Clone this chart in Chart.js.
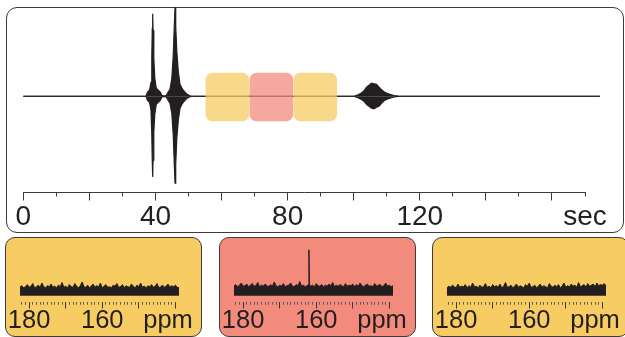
<!DOCTYPE html>
<html>
<head>
<meta charset="utf-8">
<script src="https://cdn.jsdelivr.net/npm/chart.js@4.4.1/dist/chart.umd.min.js"></script>
<style>
  html, body { margin: 0; padding: 0; background: #fff; width: 625px; height: 337px; overflow: hidden; }
  .frame { position: absolute; box-sizing: border-box; border: 1.4px solid #3d3b3c; border-radius: 11px; }
  canvas { position: absolute; }
</style>
</head>
<body>
<div class="frame" style="left:6px;top:7px;width:618px;height:226px;background:#fff;"></div>
<div class="frame" style="left:5px;top:237px;width:197px;height:100px;background:#f6cc63;border-radius:10px;"></div>
<div class="frame" style="left:218.5px;top:237px;width:197px;height:100px;background:#f38b7d;border-radius:10px;"></div>
<div class="frame" style="left:432px;top:237px;width:197px;height:100px;background:#f6cc63;border-radius:10px;"></div>

<canvas id="timeTrace" width="625" height="240" style="left:0;top:0;"></canvas>
<canvas id="spec1" width="197" height="100" style="left:5px;top:237px;"></canvas>
<canvas id="spec2" width="197" height="100" style="left:218.5px;top:237px;"></canvas>
<canvas id="spec3" width="197" height="100" style="left:432px;top:237px;"></canvas>

<script>
// ---- time trace: envelope of the acquired signal (normalised amplitude) ----
const signalTime = [0, 37.14, 37.59, 38.2, 38.65, 38.89, 39.04, 39.16, 39.28, 39.50, 39.80, 40.25, 40.86, 41.46, 41.92, 42.58,
  43.34, 43.80, 44.40, 44.95, 45.37, 45.70, 45.92, 46.13, 46.46, 46.91, 47.43, 48.18, 48.94, 49.55, 50.45, 51.36,
  100.09, 101.30, 102.21, 103.12, 103.87, 104.63, 105.39, 106.14, 106.90, 107.66, 108.41, 109.17, 110.08, 110.99, 112.20, 113.41, 114.62,
  174.5];
const signalUpper = [0, 0, .042, .062, .145, .416, .706, .857, .686, .395, .187, .083, .062, .042, .010, .003,
  .010, .042, .073, .187, .416, .727, .925, .727, .468, .260, .125, .073, .042, .021, .005, 0,
  0, .016, .031, .057, .094, .114, .135, .130, .125, .094, .068, .047, .031, .019, .008, .002, 0,
  0];
const signalLower = [0, 0, -.042, -.062, -.145, -.395, -.686, -.838, -.665, -.374, -.187, -.083, -.062, -.042, -.010, -.003,
  -.010, -.042, -.073, -.177, -.395, -.706, -.904, -.706, -.436, -.249, -.125, -.073, -.042, -.021, -.005, 0,
  0, -.016, -.031, -.052, -.083, -.104, -.125, -.130, -.114, -.104, -.073, -.047, -.031, -.019, -.008, -.002, 0,
  0];

// acquisition windows (s) and their vertical extent
const windowCentre = [61.77, 75.09, 88.37];
const windowLow = [-0.257, -0.257, -0.257];
const windowHigh = [0.242, 0.242, 0.242];

const timeTickValues = [0, 40, 80, 120, 170];
const timeTickText = ['0', '40', '80', '120', 'sec'];

// ---- 13C spectra (ppm) ----
const ppmStart = 182.5;
const ppmStep = 0.5;
const noise1 = [
  .16,.19,.15,.17,.21,.16,.18,.23,.15,.17,
  .20,.16,.24,.17,.15,.19,.17,.22,.16,.18,
  .15,.20,.17,.25,.16,.18,.15,.21,.17,.16,
  .23,.18,.15,.19,.26,.17,.16,.20,.15,.18,
  .22,.16,.19,.17,.24,.15,.18,.21,.16,.17,
  .15,.20,.18,.23,.16,.17,.21,.15,.19,.17,
  .16,.22,.18,.15,.20,.17,.24,.16,.18,.15,
  .19,.17,.21,.16,.18,.23,.15,.17,.20,.16,
  .18,.22,.16,.19,.17,.20,.16,.15];
const noise2 = [
  .18,.21,.17,.20,.24,.18,.19,.22,.17,.20,
  .23,.18,.19,.25,.17,.20,.18,.22,.19,.17,
  .21,.18,.26,.19,.17,.20,.18,.23,.17,.19,
  .20,.24,.18,.17,.21,.19,.27,.18,.20,.17,
  .19,.22,.18,.20,.17,.23,.19,.18,.21,.17,
  .20,.18,.22,.19,.25,.17,.20,.18,.21,.19,
  .17,.23,.18,.20,.19,.22,.17,.21,.18,.24,
  .19,.17,.20,.22,.18,.19,.17,.23,.18,.20,
  .21,.17,.19,.24,.18,.20,.17,.19];
const noise3 = [
  .15,.18,.16,.20,.17,.15,.22,.16,.18,.17,
  .21,.15,.19,.16,.24,.17,.18,.15,.20,.16,
  .17,.23,.16,.18,.15,.21,.17,.19,.16,.22,
  .15,.18,.25,.16,.17,.20,.15,.18,.22,.16,
  .19,.17,.15,.21,.18,.24,.16,.17,.20,.15,
  .18,.22,.16,.19,.17,.15,.23,.18,.16,.20,
  .17,.21,.15,.18,.24,.16,.19,.17,.22,.18,
  .20,.16,.25,.17,.19,.21,.16,.23,.18,.20,
  .22,.17,.24,.19,.21,.20,.23,.19];
const peakPpm = [162.15, 162.0, 161.85];
const peakHeight = [0.19, 0.87, 0.18];

const ppmTickValues = [180, 160, 142];
const ppmTickText = ['180', '160', 'ppm'];

// ---- styling ----
const INK = '#231f20';
const AXIS = '#3a3a3a';
const FONT = "'Liberation Sans', Arial, Helvetica, sans-serif";
const YELLOW_T = 'rgba(246,204,99,0.75)';
const RED_T = 'rgba(243,139,125,0.75)';
const windowColour = [YELLOW_T, RED_T, YELLOW_T];

Chart.defaults.animation = false;
Chart.defaults.events = [];

function labelFrom(values, texts) {
  return (v) => {
    const i = values.indexOf(v);
    return i >= 0 ? texts[i] : '';
  };
}

// ---- time trace chart ----
new Chart(document.getElementById('timeTrace'), {
  type: 'line',
  data: {
    datasets: [
      {
        type: 'bar',
        data: windowCentre.map((c, i) => ({ x: c, y: [windowLow[i], windowHigh[i]] })),
        backgroundColor: windowColour,
        borderWidth: 0,
        borderRadius: 7,
        borderSkipped: false,
        barThickness: 'flex',
        barPercentage: 0.978,
        categoryPercentage: 1,
        order: 0
      },
      {
        data: signalTime.map((t, i) => ({ x: t, y: signalUpper[i] })),
        borderColor: INK, backgroundColor: INK, borderWidth: 1.2,
        fill: 'origin', pointRadius: 0, clip: false, order: 1
      },
      {
        data: signalTime.map((t, i) => ({ x: t, y: signalLower[i] })),
        borderColor: INK, backgroundColor: INK, borderWidth: 1.2,
        fill: 'origin', pointRadius: 0, clip: false, order: 1
      }
    ]
  },
  options: {
    responsive: false,
    devicePixelRatio: 1,
    layout: { padding: { left: 23.3, right: 40, top: 0, bottom: 5.9 } },
    plugins: { legend: { display: false }, tooltip: { enabled: false } },
    scales: {
      x: {
        type: 'linear', min: 0, max: 170, offset: false,
        border: { display: true, color: AXIS, width: 1 },
        grid: {
          offset: false,
          drawOnChartArea: false, drawTicks: true, tickLength: 8,
          tickColor: AXIS, tickWidth: 1,
          tickBorderDash: (ctx) => (ctx.tick && ctx.tick.value % 20 !== 0) ? [3.5, 40] : []
        },
        ticks: {
          stepSize: 10, autoSkip: false, maxRotation: 0, minRotation: 0, padding: 0,
          color: INK, font: { family: FONT, size: 28, lineHeight: 1.2 },
          callback: labelFrom(timeTickValues, timeTickText)
        }
      },
      y: { display: false, min: -1, max: 1 }
    }
  }
});

// ---- spectrum charts ----
const ppmTicks = [];
for (let v = 140; v <= 182; v++) ppmTicks.push(v);

function spectrum(id, noise, withPeak) {
  const ppm = noise.map((_, i) => ppmStart - i * ppmStep);
  const datasets = [{
    data: ppm.map((p, i) => ({ x: p, y: noise[i] })),
    borderColor: INK, backgroundColor: INK, borderWidth: 1,
    fill: 'origin', pointRadius: 0, clip: false
  }];
  if (withPeak) {
    datasets.push({
      data: peakPpm.map((p, i) => ({ x: p, y: peakHeight[i] })),
      borderColor: INK, backgroundColor: INK, borderWidth: 1,
      fill: 'origin', pointRadius: 0, clip: false
    });
  }
  new Chart(document.getElementById(id), {
    type: 'line',
    data: { datasets },
    options: {
      responsive: false,
      devicePixelRatio: 1,
      layout: { padding: { left: 15, right: 23, top: 6, bottom: 3 } },
      plugins: { legend: { display: false }, tooltip: { enabled: false } },
      scales: {
        x: {
          type: 'linear', reverse: true, min: 139, max: 182.5,
          afterBuildTicks: (scale) => { scale.ticks = ppmTicks.map(v => ({ value: v })); },
          border: { display: false },
          grid: {
            drawOnChartArea: false, drawTicks: true, tickLength: 6.5, tickWidth: 1,
            tickColor: (ctx) => (ctx.tick && ctx.tick.value % 10 === 0) ? AXIS : '#5a5a5a',
            tickBorderDash: (ctx) => (ctx.tick && ctx.tick.value % 10 !== 0) ? [2.7, 20] : []
          },
          ticks: {
            autoSkip: false, maxRotation: 0, minRotation: 0, padding: 0,
            color: INK, font: { family: FONT, size: 25.5, lineHeight: 1 },
            callback: labelFrom(ppmTickValues, ppmTickText)
          }
        },
        y: { display: false, min: -0.12, max: 1 }
      }
    }
  });
}

spectrum('spec1', noise1, false);
spectrum('spec2', noise2, true);
spectrum('spec3', noise3, false);
</script>
</body>
</html>
